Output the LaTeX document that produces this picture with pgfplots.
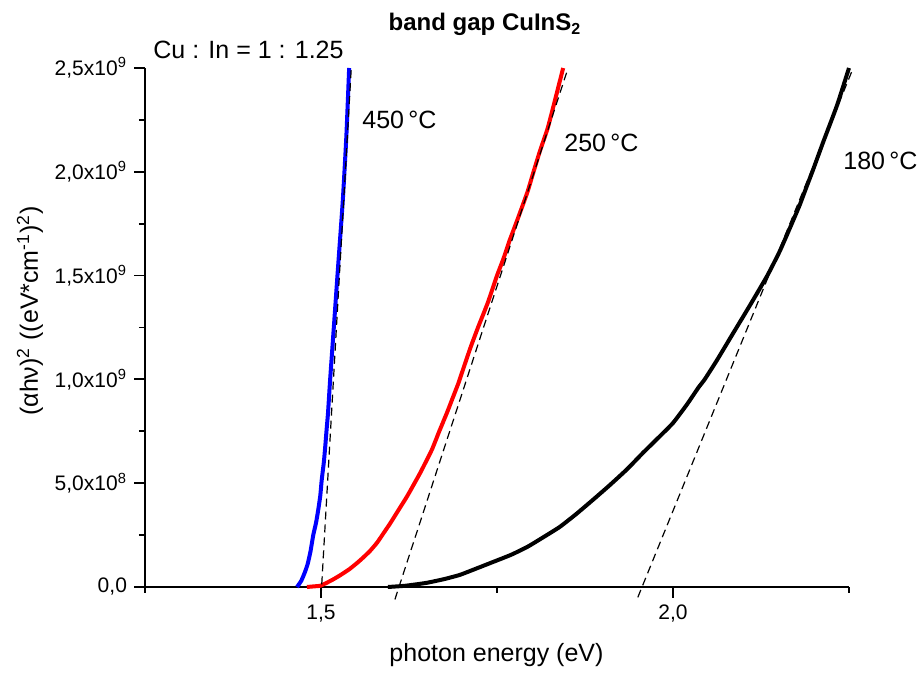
\documentclass[border=0pt]{standalone}
\usepackage{fontspec}
\setmainfont{Liberation Sans}
\usepackage{pgfplots}
\pgfplotsset{compat=1.18}
\newcommand{\lbl}{\fontsize{12.5}{15}\selectfont}
\begin{document}
\begin{tikzpicture}
\useasboundingbox (0,0) rectangle (458.5pt,336.5pt);
\begin{axis}[
  at={(72.5pt,43pt)}, anchor=south west,
  scale only axis, width=352pt, height=259.5pt,
  xmin=1.25, xmax=2.25, ymin=0, ymax=2.5e9,
  axis x line=bottom, axis y line=left,
  axis line style={-, line width=0.9pt},
  tick align=outside,
  major tick length=5.5pt, minor tick length=3pt,
  every tick/.style={black, line width=0.9pt},
  xtick={1.5,2.0}, xticklabels={{1,5},{2,0}},
  minor xtick={1.25,1.75,2.25},
  ytick={0,5e8,1e9,1.5e9,2e9,2.5e9},
  yticklabels={{0,0},{5,0x10\textsuperscript{8}},{1,0x10\textsuperscript{9}},{1,5x10\textsuperscript{9}},{2,0x10\textsuperscript{9}},{2,5x10\textsuperscript{9}}},
  minor ytick={2.5e8,7.5e8,1.25e9,1.75e9,2.25e9},
  scaled y ticks=false,
  ticklabel style={font=\fontsize{10.5}{12}\selectfont},
  clip=false,
]
% 450 C (blue)
\addplot[color={rgb,255:red,0;green,0;blue,255}, line width=2pt, smooth, tension=0.3] coordinates {
(1.466,0) (1.472,0.03e9) (1.477,0.07e9) (1.481,0.11e9) (1.485,0.17e9) (1.489,0.25e9)
(1.493,0.31e9) (1.496,0.37e9) (1.499,0.44e9) (1.501,0.515e9) (1.504,0.60e9)
(1.506,0.675e9) (1.508,0.76e9) (1.510,0.84e9) (1.513,1.0e9) (1.518,1.24e9)
(1.524,1.53e9) (1.531,1.864e9) (1.536,2.17e9) (1.540,2.5e9)
};
% 250 C (red)
\addplot[color={rgb,255:red,255;green,0;blue,0}, line width=2pt, smooth, tension=0.3] coordinates {
(1.480,0) (1.490,0.003e9) (1.499,0.006e9) (1.508,0.02e9) (1.517,0.036e9)
(1.527,0.056e9) (1.540,0.085e9) (1.551,0.115e9) (1.560,0.142e9) (1.570,0.175e9)
(1.580,0.215e9) (1.590,0.265e9) (1.598,0.305e9) (1.610,0.37e9) (1.622,0.435e9)
(1.632,0.495e9) (1.641,0.55e9) (1.650,0.61e9) (1.658,0.665e9) (1.668,0.75e9)
(1.679,0.84e9) (1.687,0.91e9) (1.695,0.98e9) (1.700,1.03e9) (1.712,1.15e9)
(1.723,1.25e9) (1.737,1.37e9) (1.750,1.50e9) (1.759,1.58e9) (1.768,1.67e9)
(1.778,1.76e9) (1.793,1.90e9) (1.801,1.99e9) (1.811,2.10e9) (1.822,2.21e9)
(1.832,2.34e9) (1.844,2.50e9)
};
% 180 C (black)
\addplot[black, line width=2pt, smooth, tension=0.3] coordinates {
(1.595,0) (1.620,0.006e9) (1.650,0.02e9) (1.675,0.038e9) (1.697,0.058e9)
(1.720,0.088e9) (1.744,0.12e9) (1.770,0.155e9) (1.793,0.193e9) (1.815,0.238e9)
(1.839,0.289e9) (1.862,0.35e9) (1.886,0.419e9) (1.910,0.49e9) (1.935,0.568e9)
(1.957,0.645e9) (1.978,0.715e9) (2.000,0.79e9) (2.020,0.88e9) (2.036,0.96e9)
(2.045,1.0e9) (2.062,1.09e9) (2.085,1.22e9) (2.109,1.355e9) (2.134,1.50e9)
(2.152,1.62e9) (2.170,1.76e9) (2.180,1.84e9) (2.190,1.93e9) (2.199,2.01e9)
(2.213,2.14e9) (2.233,2.32e9) (2.250,2.50e9)
};
% tangent lines
\addplot[black, line width=0.6pt, dash pattern=on 4pt off 2.5pt] coordinates {(1.500,-0.05e9) (1.543,2.5e9)};
\addplot[black, line width=0.6pt, dash pattern=on 4pt off 2.5pt] coordinates {(1.605,-0.06e9) (1.851,2.5e9)};
\addplot[black, line width=0.6pt, dash pattern=on 4pt off 2.5pt] coordinates {(1.950,-0.05e9) (2.256,2.5e9)};
\end{axis}
\node[anchor=base] at (242.5pt,321pt) {\fontsize{12}{14}\selectfont\bfseries band gap CuInS\textsubscript{2}};
\node[anchor=base west, inner sep=0pt] at (76.5pt,307pt) {\lbl Cu : In = 1 : 1.25};
\node[anchor=base west, inner sep=0pt] at (181pt,272pt) {\lbl 450\,°C};
\node[anchor=base west, inner sep=0pt] at (282pt,260.5pt) {\lbl 250\,°C};
\node[anchor=base west, inner sep=0pt] at (421.5pt,251.5pt) {\lbl 180\,°C};
\node[anchor=base, inner sep=0pt] at (248.25pt,5.5pt) {\lbl photon energy (eV)};
\node[rotate=90, inner sep=0pt] at (15pt,181pt) {\lbl (αhν)\textsuperscript{2} ((eV*cm\textsuperscript{-1})\textsuperscript{2})};
\end{tikzpicture}
\end{document}
